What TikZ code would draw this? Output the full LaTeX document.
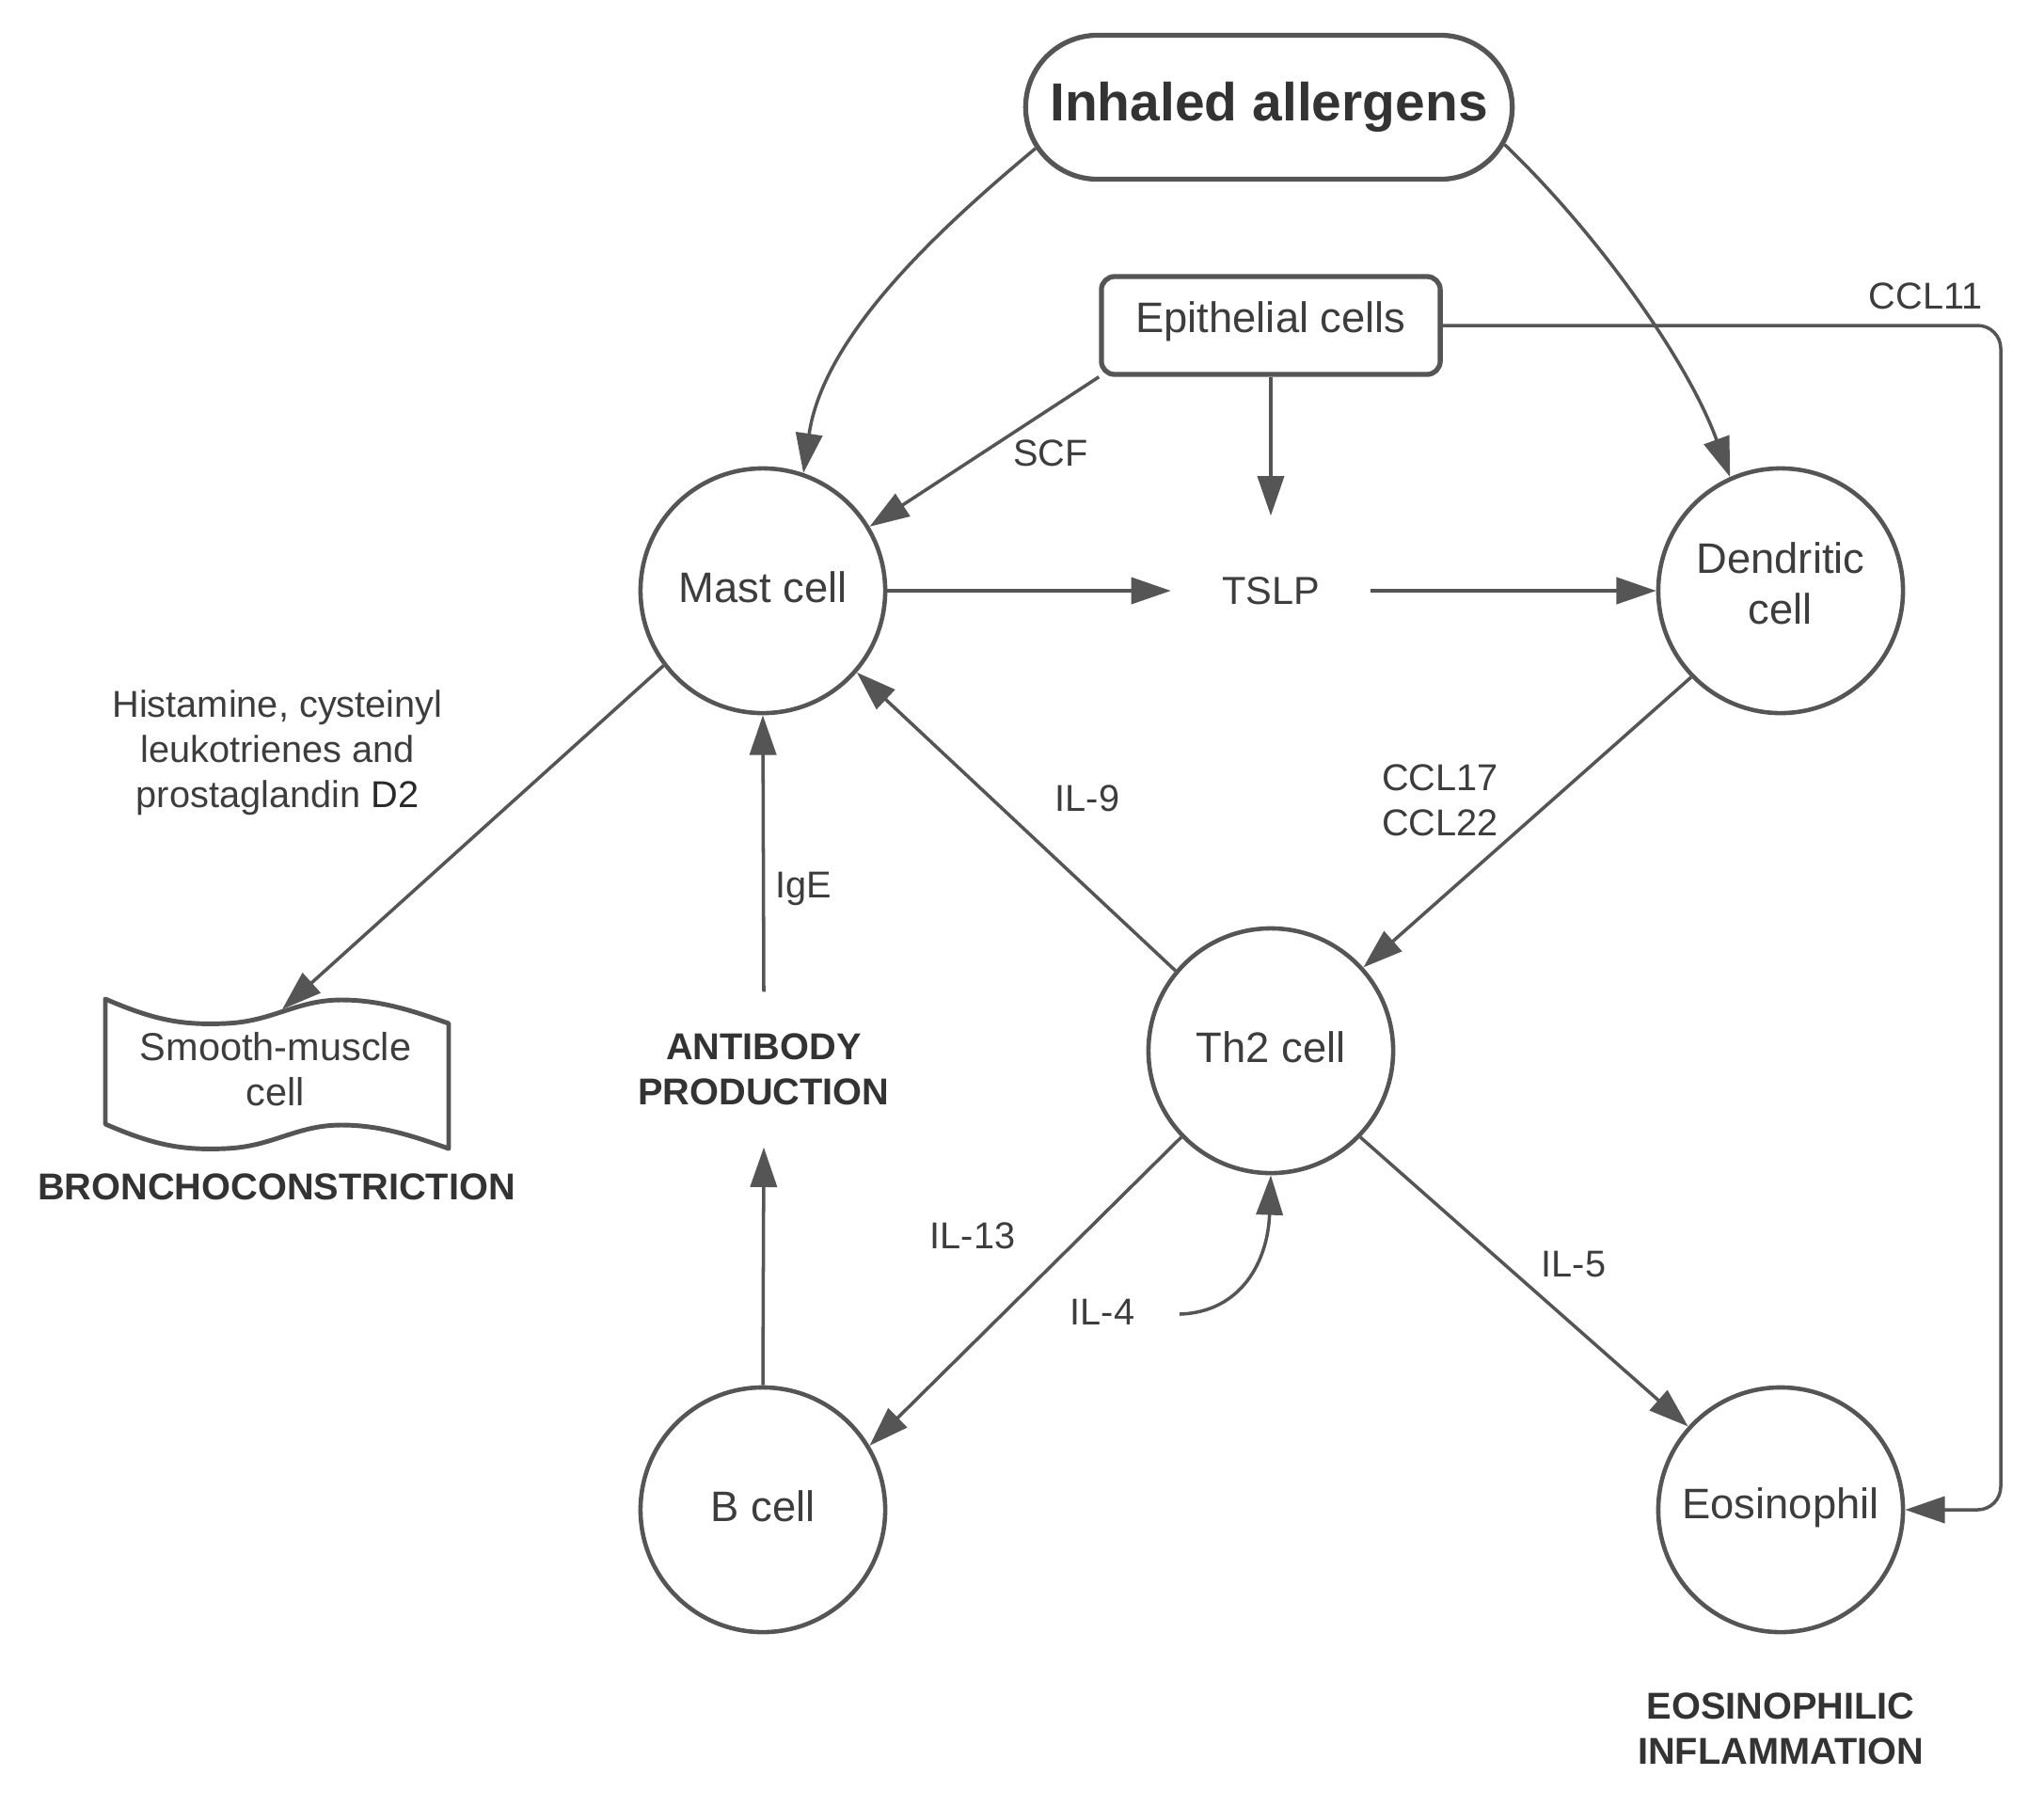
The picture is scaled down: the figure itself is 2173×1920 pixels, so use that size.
\documentclass[tikz,border=0pt]{standalone}
\usepackage{fontspec}
\setmainfont{Liberation Sans}
\usetikzlibrary{arrows.meta,shapes.misc,calc}
\definecolor{linecol}{HTML}{555555}
\definecolor{textcol}{HTML}{3D3D3D}
\definecolor{boldcol}{HTML}{333333}
\newcommand\fmain{\fontsize{12.9}{15.4}\selectfont}
\newcommand\fsmall{\fontsize{11.3}{13.6}\selectfont}
\newcommand\fbig{\fontsize{16.2}{19}\selectfont\bfseries}
\tikzset{
  cellnode/.style={circle, draw=linecol, line width=1.3pt, minimum size=2.6cm, inner sep=0pt, text=textcol, font=\fmain, align=center},
  celltext/.style={text=textcol, font=\fmain, align=center, inner sep=0pt},
  arr/.style={draw=linecol, line width=1pt, -{Triangle[length=12pt,width=8pt]}},
  lbl/.style={text=textcol, font=\fsmall, align=center, inner sep=0pt},
  blbl/.style={text=boldcol, font=\fsmall\bfseries, align=center, inner sep=0pt},
  shapeline/.style={draw=linecol, line width=1.4pt, line join=round}
}
\begin{document}
\begin{tikzpicture}[x=0.01cm,y=0.01cm]
\useasboundingbox (0,0) rectangle (2173,-1920);
\fill[white] (0,0) rectangle (2173,-1920);

% main nodes
\node[rounded rectangle, draw=linecol, line width=1.5pt, minimum width=5.17cm, minimum height=1.53cm, inner sep=0pt, text=boldcol, font=\fbig] (allergen) at (1349,-114) {Inhaled allergens};
\node[rectangle, rounded corners=4pt, draw=linecol, line width=1.5pt, minimum width=3.6cm, minimum height=1.04cm, inner sep=0pt, text=textcol, font=\fmain] (epi) at (1351,-346) {};
\node[celltext] (epitext) at (1351,-342) {Epithelial cells};
\node[cellnode] (mast) at (811,-628) {};
\node[celltext] (masttext) at (811,-624) {Mast cell};
\node[cellnode] (dend) at (1893,-628) {};
\node[celltext] (dendtext) at (1893,-620) {Dendritic\\cell};
\node[cellnode] (th2) at (1351,-1117) {};
\node[celltext] (th2text) at (1351,-1113) {Th2 cell};
\node[cellnode] (bcell) at (811,-1605) {};
\node[celltext] (btext) at (811,-1601) {B cell};
\node[cellnode] (eos) at (1893,-1605) {};
\node[celltext] (eostext) at (1893,-1603) {Eosinophil};
\node[lbl, font=\fontsize{11.8}{14}\selectfont, minimum width=2.11cm, minimum height=1.58cm] (tslp) at (1351,-628) {TSLP};

% smooth muscle cell shape
\draw[shapeline] (112,-1062) .. controls (165,-1085) and (195,-1090) .. (240,-1088)
  .. controls (290,-1086) and (315,-1063) .. (363,-1063)
  .. controls (405,-1063) and (440,-1075) .. (477,-1088) -- (477,-1221)
  .. controls (440,-1208) and (405,-1196) .. (363,-1196)
  .. controls (315,-1196) and (290,-1219) .. (240,-1221)
  .. controls (195,-1223) and (165,-1218) .. (112,-1195) -- cycle;
\node[lbl, font=\fontsize{11.8}{13.6}\selectfont] (smc) at (293,-1137) {Smooth-muscle\\cell};
\coordinate (smctop) at (300,-1073);

% labels
\node[lbl] (scf) at (1117,-482) {SCF};
\node[lbl] (ccl11) at (2047,-315) {CCL11};
\node[lbl] (ccl17) at (1531,-851) {CCL17\\CCL22};
\node[lbl] (il9) at (1156,-849) {IL-9};
\node[lbl] (ige) at (854,-945) {IgE};
\node[lbl] (hist) at (295,-800) {Histamine, cysteinyl\\leukotrienes and\\prostaglandin \textcolor{boldcol!80!black}{D2}};
\node[blbl, minimum height=1.64cm] (antibody) at (812,-1137) {ANTIBODY\\PRODUCTION};
\node[blbl] (broncho) at (294,-1262) {BRONCHOCONSTRICTION};
\node[lbl] (il13) at (1034,-1314) {IL-13};
\node[lbl] (il4) at (1172,-1395) {IL-4};
\node[lbl] (il5) at (1673,-1344) {IL-5};
\node[blbl] (eosinfl) at (1893,-1838) {EOSINOPHILIC\\INFLAMMATION};

\coordinate (il4start) at (1254,-1397);
\coordinate (ccl11turn) at (2127,-346);

% connectors
\draw[arr] (allergen.190) .. controls (990,-250) and (875,-360) .. (mast.71);
\draw[arr] (allergen.351) .. controls (1700,-250) and (1795,-385) .. (dend.114);
\draw[arr] (epi.south west) -- (mast.31);
\draw[arr] (epi.south) -- (tslp.north);
\draw[arr, rounded corners=7pt] (epi.east) -- (ccl11turn) |- (eos.east);
\draw[arr] (mast.east) -- (tslp.west);
\draw[arr] (tslp.east) -- (dend.west);
\draw[arr] (dend.224) -- (th2.42);
\draw[arr] (th2.140) -- (mast.319);
\draw[arr] (mast.217) -- (smctop);
\draw[arr] (antibody.north) -- (mast.south);
\draw[arr] (bcell.north) -- (antibody.south);
\draw[arr] (th2.224) -- (bcell.31);
\draw[arr] (th2.316) -- (eos.138);
\draw[arr] (il4start) .. controls (1320,-1395) and (1348,-1340) .. (th2.south);
\end{tikzpicture}
\end{document}
